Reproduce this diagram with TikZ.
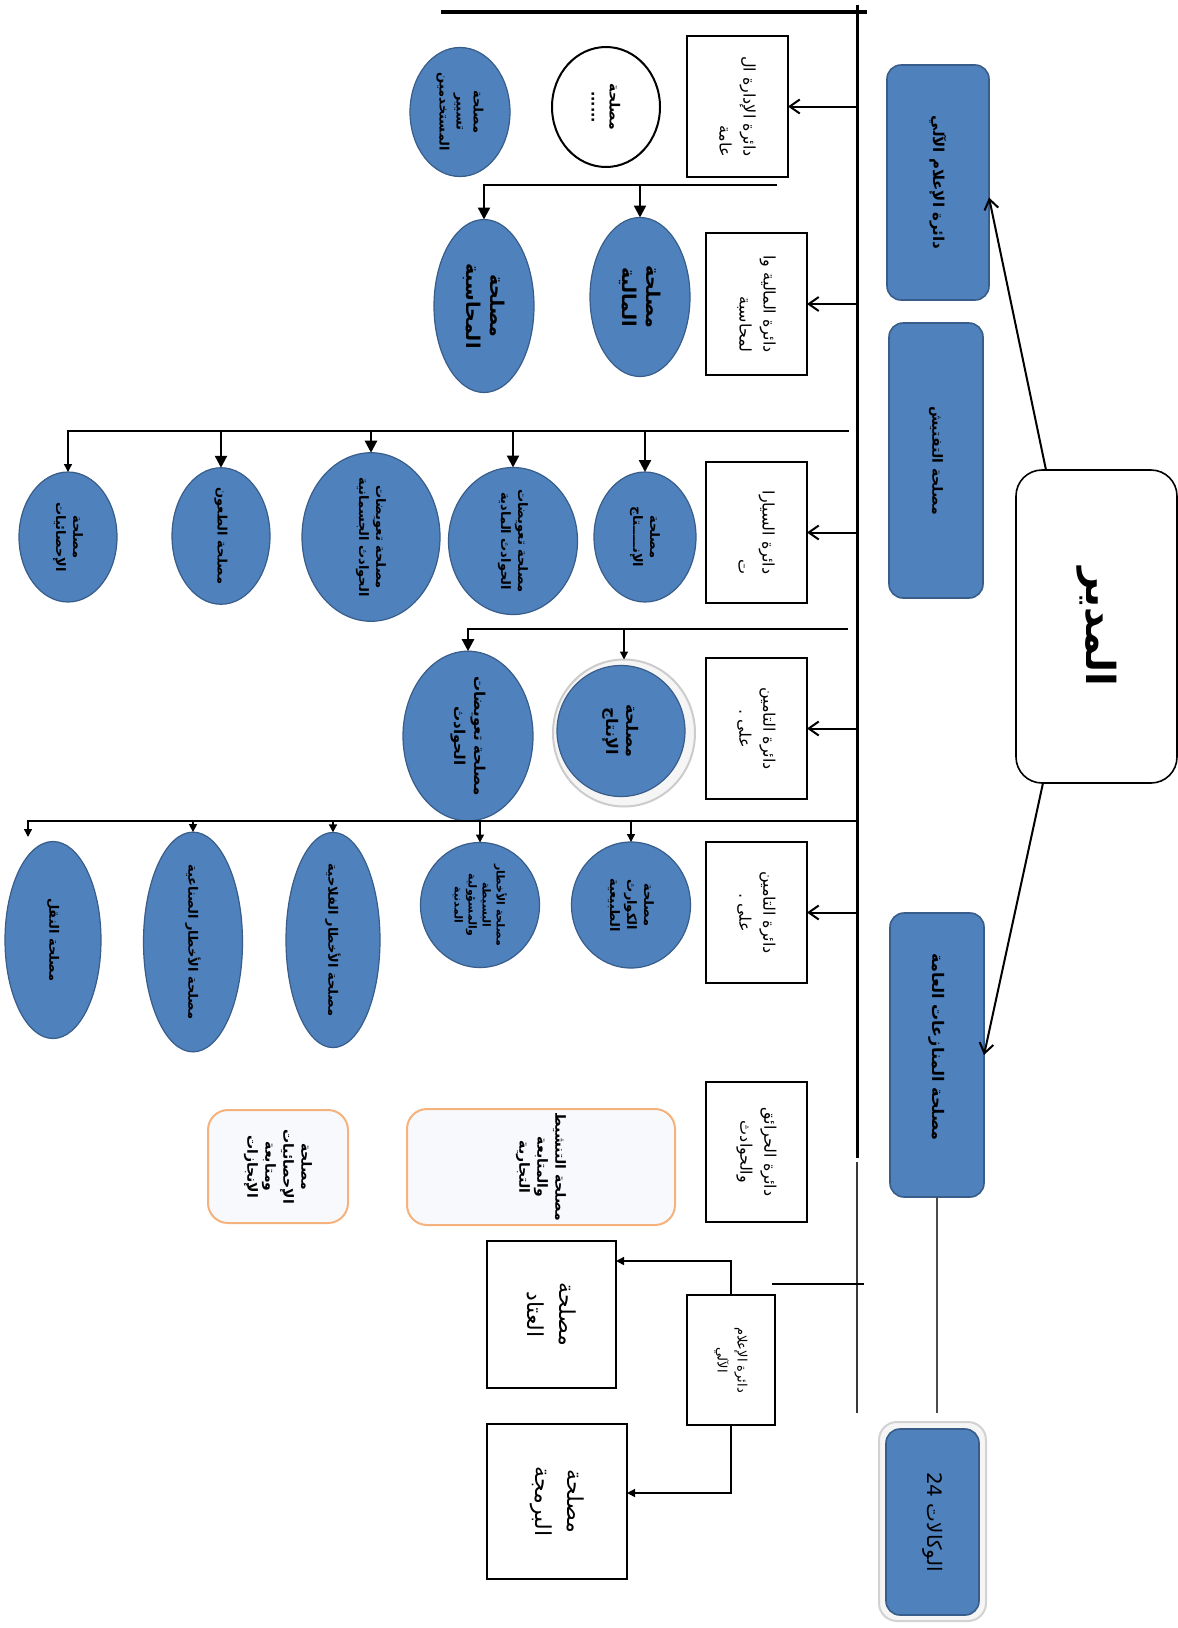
\documentclass[tikz,border=0pt]{standalone}
\usepackage{fontspec}
\usetikzlibrary{arrows.meta,shapes.geometric,calc}
\newfontfamily\arabicfont[Script=Arabic]{DejaVu Sans}
\TeXXeTstate=1
\newcommand\AR[1]{\beginR #1\endR}
\definecolor{boxblue}{RGB}{79,129,189}
\definecolor{edgeblue}{RGB}{56,93,138}
\definecolor{orangeedge}{RGB}{246,178,125}
\definecolor{paleface}{RGB}{248,249,252}

\begin{document}
\begin{tikzpicture}[x=0.5pt,y=-0.5pt,
  rot/.style={rotate=-90, inner sep=0pt, outer sep=0pt, align=center},
  sz/.style 2 args={minimum height=#1*0.5pt, minimum width=#2*0.5pt},
  headbox/.style={rot, rectangle, rounded corners=13pt, draw=black, line width=0.8pt, fill=white,
    font=\arabicfont\bfseries\fontsize{20}{24}\selectfont},
  unitbox/.style={rot, rectangle, rounded corners=7pt, draw=edgeblue, line width=0.8pt, fill=boxblue,
    font=\arabicfont\bfseries\fontsize{7.5}{12}\selectfont},
  dept/.style={rot, rectangle, draw=black, line width=1pt, fill=white,
    font=\arabicfont\fontsize{8}{12}\selectfont},
  svc/.style={rot, ellipse, draw=edgeblue, line width=0.6pt, fill=boxblue,
    font=\arabicfont\bfseries\fontsize{6.5}{8.5}\selectfont},
  plainsvc/.style={rot, ellipse, draw=black, line width=1pt, fill=white,
    font=\arabicfont\bfseries\fontsize{7}{9}\selectfont},
  softbox/.style={rot, rectangle, rounded corners=10pt, draw=orangeedge, line width=1pt, fill=paleface,
    font=\arabicfont\bfseries\fontsize{7}{9}\selectfont},
  itbox/.style={rot, rectangle, draw=black, line width=1pt, fill=white,
    font=\arabicfont\fontsize{11}{16}\selectfont},
  link/.style={line width=1pt, black},
  deptarrow/.style={link, -{Straight Barb[length=5pt,width=7pt]}},
  subarrow/.style={line width=1.2pt, -{Triangle[length=6pt,width=6pt]}},
  thinarrow/.style={line width=0.7pt, -{Triangle[length=4pt,width=4pt]}},
]
\fill[white] (0,0) rectangle (1178,1628);
\useasboundingbox (0,0) rectangle (1178,1628);

% director
\node[headbox, sz={161}{313}] (dir) at (1096.5,626.5) {\AR{المدير}};

% units attached to the director
\node[unitbox, sz={102}{235}] (b1) at (938,182.5) {\AR{دائرة الإعلام الآلي}};
\node[unitbox, sz={94}{275}, font=\arabicfont\bfseries\fontsize{7}{12}\selectfont] (b2) at (936,460.5) {\AR{مصلحة التفتيش}};
\node[unitbox, sz={94}{284}, font=\arabicfont\bfseries\fontsize{8}{12}\selectfont] (b3) at (937,1055) {\AR{مصلحة المنازعات العامة}\hspace*{8pt}};
\node[rot, rectangle, rounded corners=9pt, sz={107}{199}, fill=gray!8, draw=gray!35, line width=1pt] (b4rim) at (932.5,1521.5) {};
\node[unitbox, sz={93}{186}, font=\arabicfont\fontsize{10}{12}\selectfont] (b4) at (932.5,1522) {\AR{الوكالات \beginL 24\endL}};

% spine and top bar
\coordinate (spTop) at (857,5);
\coordinate (spMid) at (857,1158);
\coordinate (spLowTop) at (857,1162);
\coordinate (spEnd) at (857,1413);
\coordinate (barL) at (441,12);
\coordinate (barR) at (867,12);
\draw[line width=2pt] (barL) -- (barR);
\draw[line width=1.5pt] (spTop) -- (spMid);
\draw[line width=1.3pt, gray!45!black] (spLowTop) -- (spEnd);

% departments
\node[dept, sz={101}{141}, align=right] (d1) at (737.5,106.5) {\AR{دائرة الإدارة ال}\\\AR{عامة}};
\node[dept, sz={101}{142}, align=right] (d2) at (756.5,304) {\AR{دائرة المالية وا}\\\AR{لمحاسبة}};
\node[dept, sz={101}{141}, align=right] (d3) at (756.5,532.5) {\AR{دائرة السيارا}\\\AR{ت}};
\node[dept, sz={101}{141}] (d4) at (756.5,728.5) {\AR{دائرة التامين}\\\AR{على .}};
\node[dept, sz={101}{141}] (d5) at (756.5,912.5) {\AR{دائرة التامين}\\\AR{على .}};
\node[dept, sz={101}{140}] (d6) at (756.5,1152) {\AR{دائرة الحرائق}\\\AR{والحوادث}};
\node[dept, sz={88}{130}, font=\arabicfont\fontsize{6.5}{10}\selectfont] (d7) at (731,1360) {\AR{دائرة الإعلام}\\\AR{الآلي}};

\foreach \d in {d1,d2,d3,d4,d5}
  \draw[deptarrow] (spTop |- \d.north) -- (\d.north);

% general administration services
\node[plainsvc, sz={108}{120}] (e11) at (606,107) {\AR{مصلحة}\\\AR{......}};
\node[svc, sz={100}{129}] (e12) at (460,112) {\AR{مصلحة}\\\AR{تسيير}\\\AR{المستخدمين}};

% finance services
\node[svc, sz={100}{159}, font=\arabicfont\bfseries\fontsize{9.5}{12}\selectfont] (e21) at (640,297) {\AR{مصلحة}\\\AR{المالية}};
\node[svc, sz={100}{173}, font=\arabicfont\bfseries\fontsize{9.5}{12}\selectfont] (e22) at (484,306) {\AR{مصلحة}\\\AR{المحاسبة}};
\coordinate (r2R) at (777,185);
\draw[subarrow] (r2R) -- (r2R -| e22.west) -- (e22.west);
\draw[subarrow] (r2R -| e21.west) -- (e21.west);

% motor services
\node[svc, sz={102}{130}] (e31) at (645,537) {\AR{مصلحة}\\\AR{الإنـــــتاج}};
\node[svc, sz={129}{138}] (e32) at (513,541) {\AR{مصلحة تعويضات}\\\AR{الحوادث المادية}};
\node[svc, sz={138}{130}] (e33) at (371,537) {\AR{مصلحة تعويضات}\\\AR{الحوادث الجسمانية}};
\node[svc, sz={98}{128}] (e34) at (221,536) {\AR{مصلحة الطعون}};
\node[svc, sz={98}{130}] (e35) at (68,537) {\AR{مصلحة}\\\AR{الإحصائيات}};
\coordinate (r3R) at (849,431);
\draw[thinarrow] (r3R) -- (r3R -| e35.west) -- (e35.west);
\foreach \e in {e31,e32,e33,e34}
  \draw[subarrow] (r3R -| \e.west) -- (\e.west);

% first insurance department services
\node[rot, ellipse, sz={142}{147}, fill=gray!8, draw=gray!40, line width=1pt] (e41rim) at (624,733) {};
\node[svc, sz={128}{131}, font=\arabicfont\bfseries\fontsize{8}{10}\selectfont] (e41) at (621,731) {\AR{مصلحة}\\\AR{الإنتاج}};
\node[svc, sz={130}{148}, font=\arabicfont\bfseries\fontsize{7.5}{10}\selectfont] (e42) at (468,736) {\AR{مصلحة تعويضات}\\\AR{الحوادث}};
\coordinate (r4R) at (848,629);
\draw[subarrow] (r4R) -- (r4R -| e42.west) -- (e42.west);
\draw[thinarrow] (r4R -| e41rim.west) -- (e41rim.west);

% second insurance department services
\node[svc, sz={119}{126}] (e51) at (631,905) {\AR{مصلحة}\\\AR{الكوارث}\\\AR{الطبيعية}};
\node[svc, sz={119}{125}, font=\arabicfont\bfseries\fontsize{5.5}{7}\selectfont] (e52) at (480,905) {\AR{مصلحة الأخطار}\\\AR{البسيطة}\\\AR{والمسؤولية}\\\AR{المدنية}};
\node[svc, sz={94}{197}] (e53) at (333,940) {\AR{مصلحة الأخطار الفلاحية}};
\node[svc, sz={99}{192}] (e54) at (193,942) {\AR{مصلحة الأخطار الصناعية}};
\node[svc, sz={96}{197}] (e55) at (53,940) {\AR{مصلحة النقل}};
\coordinate (r5R) at (857,821);
\coordinate (r5L) at (28,821);
\coordinate (r5Ltip) at (28,837);
\draw[thinarrow] (r5R) -- (r5L) -- (r5Ltip);
\foreach \e in {e51,e52,e53,e54}
  \draw[thinarrow] (r5R -| \e.west) -- (\e.west);

% fire and accidents services
\node[softbox, sz={268}{116}] (o1) at (541,1167) {\AR{مصلحة التنشيط}\\\AR{والمتابعة}\\\AR{التجارية}};
\node[softbox, sz={140}{113}] (o2) at (278,1166.5) {\AR{مصلحة}\\\AR{الإحصائيات}\\\AR{ومتابعة}\\\AR{الإنجازات}};

% computing department services
\node[itbox, sz={129}{147}] (s71) at (551.5,1314.5) {\AR{مصلحة}\\\AR{العتاد}};
\node[itbox, sz={140}{155}] (s72) at (557,1501.5) {\AR{مصلحة}\\\AR{البرمجة}};
\coordinate (k1) at (731,1261);
\coordinate (k2) at (731,1493);
\draw[thinarrow] (d7.west) -- (k1) -- (k1 -| s71.north);
\draw[thinarrow] (d7.east) -- (k2) -- (k2 -| s72.north);
\coordinate (stubL) at (772,1284);
\coordinate (stubR) at (864,1284);
\draw[link] (stubL) -- (stubR);

% director links
\coordinate (dirA) at (1046,470);
\coordinate (dirB) at (1043,783);
\draw[deptarrow] (dirA) -- ([yshift=-7.5pt]b1.north);
\draw[deptarrow] (dirB) -- (b3.north);
\draw[line width=1pt, gray!60!black] (b3.east) -- (b3.east |- spEnd);
\end{tikzpicture}
\end{document}
